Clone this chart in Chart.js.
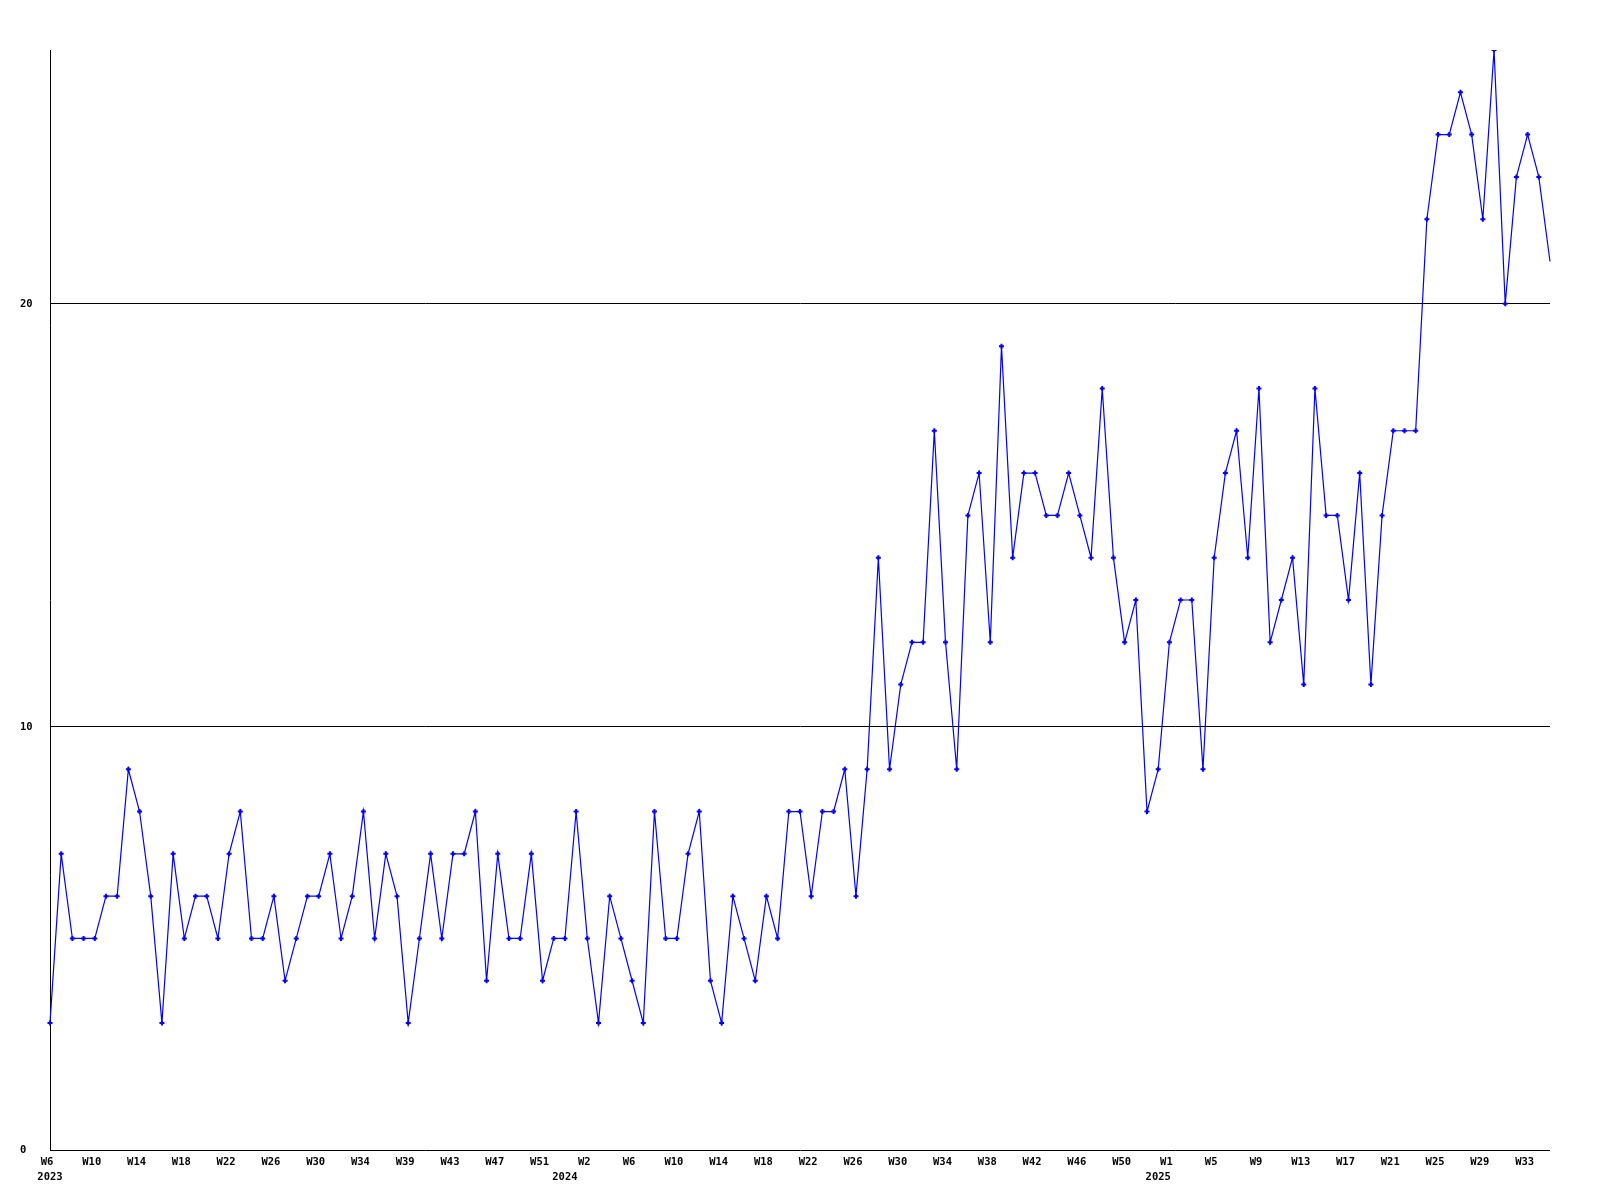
<!DOCTYPE html>
<html>
<head>
<meta charset="utf-8">
<title>Weekly count</title>
<script src="https://cdn.jsdelivr.net/npm/chart.js@4/dist/chart.umd.min.js"></script>
<style>
  html, body { margin: 0; padding: 0; background: #fff; }
  #chart { display: block; }
</style>
</head>
<body>
<canvas id="chart" width="1600" height="1200"></canvas>
<script>
// weeks per year, as they appear along the x axis
const weeks2023 = ["W6","W7","W8","W9","W10","W11","W12","W13","W14","W15","W16","W17","W18","W19","W20",
  "W21","W22","W23","W24","W25","W26","W27","W28","W29","W30","W31","W32","W33","W34","W35","W36","W37",
  "W39","W40","W41","W42","W43","W44","W45","W46","W47","W48","W49","W50","W51","W52"];
const weeks2024 = ["W0","W1","W2","W3","W4","W5","W6","W7","W8","W9","W10","W11","W12","W13","W14","W15",
  "W16","W17","W18","W19","W20","W21","W22","W23","W24","W25","W26","W27","W28","W29","W30","W31","W32",
  "W33","W34","W35","W36","W37","W38","W39","W40","W41","W42","W43","W44","W45","W46","W47","W48","W49",
  "W50","W51","W52"];
const weeks2025 = ["W0","W1","W2","W3","W4","W5","W6","W7","W8","W9","W10","W11","W12","W13","W14","W15",
  "W16","W17","W18","W19","W20","W21","W22","W23","W24","W25","W26","W27","W28","W29","W30","W31","W32",
  "W33","W34","W35"];
const years = ["2023", "2024", "2025"];

// weekly values
const counts2023 = [3,7,5,5,5,6,6,9,8,6,3,7,5,6,6,5,7,8,5,5,6,4,5,6,6,7,5,6,8,5,7,6,3,5,
  7,5,7,7,8,4,7,5,5,7,4,5];
const counts2024 = [5,8,5,3,6,5,4,3,8,5,5,7,8,4,3,6,5,4,6,5,8,8,6,
  8,8,9,6,9,14,9,11,12,12,17,12,9,15,16,12,19,14,16,16,15,15,16,15,14,18,14,12,13,8];
const counts2025 = [9,12,13,13,9,14,16,17,14,18,12,13,14,11,18,15,15,13,16,11,15,17,17,17,
  22,24,24,25,24,22,26,20,23,24,23,21];

const yTicks = [0, 10, 20];
const yMax = 26;
const labelEvery = 4;

const categories = weeks2023.concat(weeks2024, weeks2025);
const values = counts2023.concat(counts2024, counts2025);

// first point of each year gets the year label
const yearStart = {};
yearStart[0] = years[0];
yearStart[weeks2023.length] = years[1];
yearStart[weeks2023.length + weeks2024.length] = years[2];

const tickFont = { family: "'DejaVu Sans Mono', monospace", size: 10.5, weight: "bold", lineHeight: 1.2 };

new Chart(document.getElementById("chart"), {
  type: "line",
  data: {
    labels: categories,
    datasets: [{
      data: values,
      borderColor: "#0000ff",
      borderWidth: 1.2,
      tension: 0,
      fill: false,
      pointStyle: "cross",
      pointRadius: (ctx) => (ctx.dataIndex === values.length - 1 ? 0 : 2.5),
      pointBorderColor: "#0000ff",
      pointBorderWidth: 2
    }]
  },
  options: {
    responsive: false,
    animation: false,
    events: [],
    layout: { padding: { top: 50, left: 20, right: 50, bottom: 15 } },
    plugins: { legend: { display: false }, tooltip: { enabled: false } },
    scales: {
      x: {
        type: "category",
        position: "bottom",
        grid: { display: false, drawTicks: false },
        border: { display: false },
        ticks: {
          autoSkip: false,
          maxRotation: 0,
          padding: 6.4,
          labelOffset: -3,
          color: "#000",
          font: tickFont,
          callback: function (value, index) {
            return index % labelEvery === 0 ? this.getLabelForValue(value) : "";
          }
        },
        afterFit: (s) => { s.height = 19; }
      },
      x2: {
        type: "category",
        position: "bottom",
        labels: categories,
        grid: { display: false, drawTicks: false },
        border: { display: false },
        ticks: {
          autoSkip: false,
          maxRotation: 0,
          padding: 1.7,
          color: "#000",
          font: tickFont,
          callback: (value, index) => yearStart[index] || ""
        },
        afterFit: (s) => { s.height = 16; }
      },
      y: {
        min: 0,
        max: yMax,
        afterBuildTicks: (s) => { s.ticks = yTicks.map((v) => ({ value: v })); },
        grid: { color: "#000", lineWidth: 1, drawTicks: false },
        border: { display: true, color: "#000", width: 1 },
        ticks: {
          crossAlign: "far",
          padding: 10,
          color: "#000",
          font: tickFont
        },
        afterFit: (s) => { s.width = 30; }
      }
    }
  }
});
</script>
</body>
</html>
